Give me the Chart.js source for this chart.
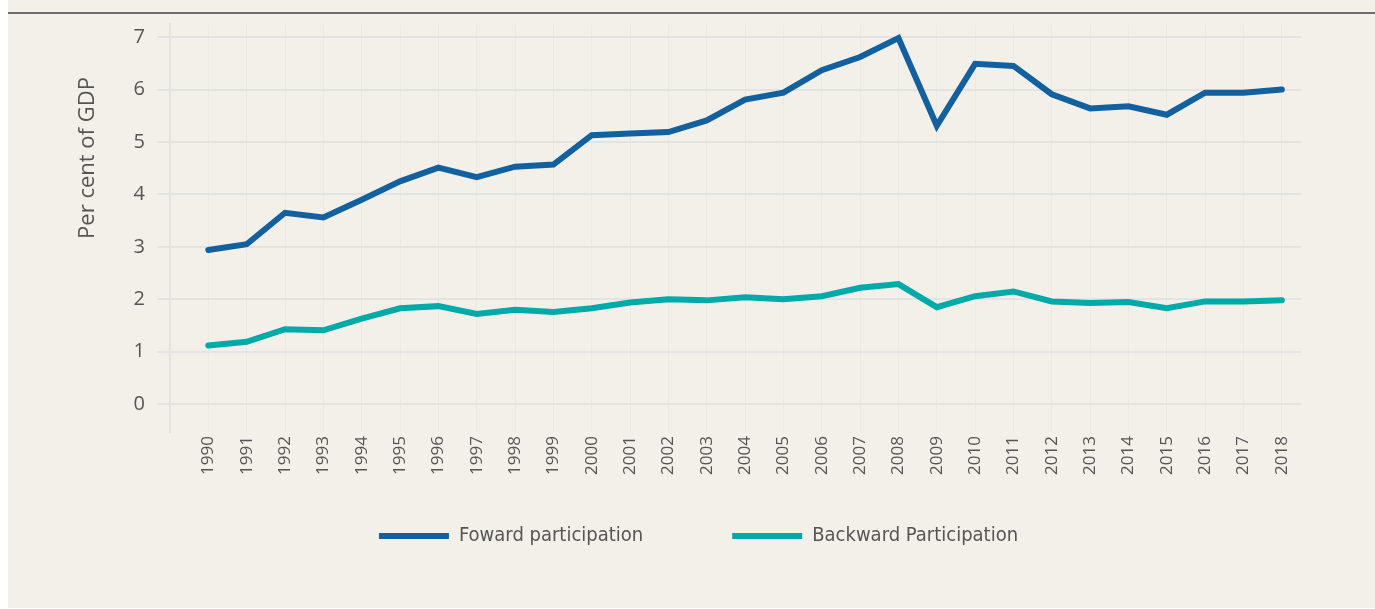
<!DOCTYPE html>
<html>
<head>
<meta charset="utf-8">
<script src="https://cdn.jsdelivr.net/npm/chart.js@4"></script>
<style>
  body { margin: 0; background: #fff; }
  .box { position: absolute; left: 8px; top: 0; width: 1367px; height: 608px; background: #f3f0ea; }
  .rule { position: absolute; left: 0; top: 12px; width: 1367px; height: 2px; background: #6e6e6e; }
  canvas { position: absolute; left: 0; top: 0; }
</style>
</head>
<body>
<div class="box">
  <div class="rule"></div>
  <canvas id="myChart" width="1367" height="608"></canvas>
</div>
<script>
// 데이터
const years = [1990,1991,1992,1993,1994,1995,1996,1997,1998,1999,2000,2001,2002,2003,2004,
               2005,2006,2007,2008,2009,2010,2011,2012,2013,2014,2015,2016,2017,2018];
const forward = [2.94,3.05,3.65,3.56,3.90,4.25,4.51,4.33,4.53,4.57,5.13,5.16,5.19,5.41,5.81,
                 5.94,6.37,6.62,6.98,5.31,6.49,6.45,5.91,5.64,5.68,5.52,5.94,5.94,6.00];
const backward = [1.12,1.19,1.43,1.41,1.63,1.83,1.87,1.72,1.80,1.76,1.83,1.94,2.00,1.98,2.04,
                  2.00,2.06,2.22,2.29,1.85,2.06,2.15,1.96,1.93,1.95,1.83,1.96,1.96,1.98];
const yTicks = [0,1,2,3,4,5,6,7];

const ctx = document.getElementById('myChart');

// y축 제목 (위쪽으로 치우쳐 있어서 직접 그림)
const yTitle = {
  id: 'yTitle',
  afterDraw(chart) {
    const c = chart.ctx;
    c.save();
    c.translate(80, 158);
    c.rotate(-Math.PI / 2);
    c.font = '22px "Open Sans"';
    c.fillStyle = '#555555';
    c.textAlign = 'center';
    c.textBaseline = 'middle';
    c.fillText('Per cent of GDP', 0, 0);
    c.restore();
  }
};

// 범례 위치 조정 (padding이 세로 간격까지 먹어서)
const legendMove = {
  id: 'legendMove',
  afterLayout(chart) {
    const lg = chart.legend;
    const h = lg.bottom - lg.top;
    lg.top = 437;
    lg.bottom = 437 + h;
    lg.left += 44;
    lg.right += 44;
  }
};

new Chart(ctx, {
  type: 'line',
  data: {
    datasets: [{
      label: 'Foward participation',
      data: years.map((y, i) => ({x: y, y: forward[i]})),
      borderColor: '#12609e',
      backgroundColor: '#12609e',
      borderWidth: 6,
      borderCapStyle: 'round',
      pointRadius: 0,
      tension: 0
    }, {
      label: 'Backward Participation',
      data: years.map((y, i) => ({x: y, y: backward[i]})),
      borderColor: '#00aaa8',
      backgroundColor: '#00aaa8',
      borderWidth: 6,
      borderCapStyle: 'round',
      pointRadius: 0,
      tension: 0
    }]
  },
  options: {
    responsive: false,
    animation: false,
    layout: { padding: { top: 23, right: 74, bottom: 7, left: 0 } },
    plugins: {
      tooltip: { enabled: false },
      legend: {
        position: 'bottom',
        labels: {
          usePointStyle: true,
          pointStyle: 'line',
          pointStyleWidth: 70,
          boxHeight: 6,
          padding: 89,
          color: '#555555',
          font: { family: '"Liberation Sans Narrow", "DejaVu Sans Condensed", sans-serif', size: 20 }
        }
      }
    },
    scales: {
      x: {
        type: 'linear',
        min: 1989,
        max: 2018.5,
        afterBuildTicks: (s) => { s.ticks = [1989].concat(years).map(v => ({value: v})); },
        afterFit: (s) => { s.height = 50; },
        ticks: {
          autoSkip: false,
          minRotation: 90,
          maxRotation: 90,
          padding: 4,
          color: '#555555',
          font: { family: '"Open Sans"', size: 17 },
          callback: (v) => v === 1989 ? '' : String(v)
        },
        grid: { color: '#ebe9e5', lineWidth: 1, tickLength: 0 },
        border: { display: false }
      },
      y: {
        min: -0.53,
        max: 7.25,
        afterBuildTicks: (s) => { s.ticks = yTicks.map(v => ({value: v})); },
        afterFit: (s) => { s.width = 162; },
        ticks: {
          padding: 12,
          color: '#555555',
          font: { family: '"Open Sans"', size: 20 }
        },
        grid: { color: '#e4e3e4', lineWidth: 2, tickLength: 13 },
        border: { display: true, color: '#e4e3e4', width: 2 }
      }
    }
  },
  plugins: [yTitle, legendMove]
});
</script>
</body>
</html>
